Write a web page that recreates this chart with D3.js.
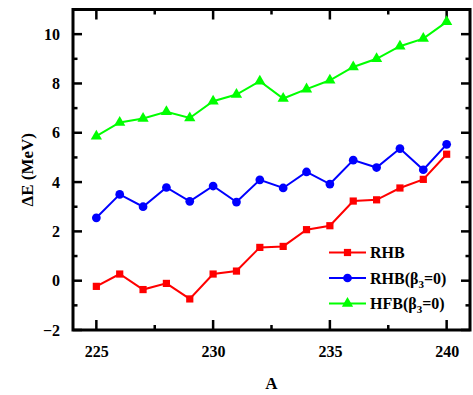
<!DOCTYPE html>
<html><head><meta charset="utf-8">
<script src="https://cdn.jsdelivr.net/npm/d3@7"></script>
<style>body{margin:0;background:#fff}svg{display:block}text{font-family:"Liberation Serif","Times New Roman",serif;font-weight:bold}</style>
</head><body>
<svg id="c" width="473" height="395"></svg>
<script>
const massNumbers = [225,226,227,228,229,230,231,232,233,234,235,236,237,238,239,240];
const rhb = [-0.23,0.27,-0.36,-0.11,-0.74,0.27,0.39,1.35,1.39,2.07,2.23,3.23,3.28,3.76,4.11,5.13];
const rhbB3 = [2.55,3.50,3.00,3.78,3.22,3.84,3.19,4.09,3.76,4.41,3.92,4.89,4.59,5.36,4.50,5.53];
const hfbB3 = [5.86,6.42,6.58,6.85,6.60,7.28,7.55,8.09,7.39,7.77,8.13,8.67,9.00,9.51,9.82,10.50];
const xTicks = [225,230,235,240];
const yTicks = [-2,0,2,4,6,8,10];
const seriesNames = ["RHB","RHB(β3=0)","HFB(β3=0)"];

const svg = d3.select("#c");
const L=73,R=470,T=9.5,B=330;
const x = d3.scaleLinear().domain([224,241]).range([L,R]);
const y = d3.scaleLinear().domain([-2,11]).range([B,T]);

const series = [
  {name:seriesNames[0], vals:rhb, color:"#ff0000", shape:d3.symbolSquare, size:52},
  {name:seriesNames[1], vals:rhbB3, color:"#0000ff", shape:d3.symbolCircle, size:60},
  {name:seriesNames[2], vals:hfbB3, color:"#00ff00", shape:d3.symbolTriangle, size:55}
];

// ticks inward
const g = svg.append("g");
d3.range(225,241,2.5).forEach(v=>{
  const major = xTicks.includes(v);
  const len = major?10:5;
  g.append("line").attr("x1",x(v)).attr("x2",x(v)).attr("y1",B).attr("y2",B-len).attr("stroke","#000").attr("stroke-width",2.5);
  g.append("line").attr("x1",x(v)).attr("x2",x(v)).attr("y1",T).attr("y2",T+len).attr("stroke","#000").attr("stroke-width",2.5);
});
d3.range(-2,11,1).forEach(v=>{
  const major = yTicks.includes(v);
  const len = major?9:4.5;
  g.append("line").attr("y1",y(v)).attr("y2",y(v)).attr("x1",L).attr("x2",L+len).attr("stroke","#000").attr("stroke-width",2.5);
  g.append("line").attr("y1",y(v)).attr("y2",y(v)).attr("x1",R).attr("x2",R-len).attr("stroke","#000").attr("stroke-width",2.5);
});

const xAxis = svg.append("g").attr("transform",`translate(0,${B})`)
  .call(d3.axisBottom(x).tickValues(xTicks).tickSize(0).tickPadding(16));
xAxis.select(".domain").remove();
xAxis.selectAll("text").attr("font-family",null).attr("font-size",16).attr("fill","#000");
const yAxis = svg.append("g").attr("transform",`translate(${L},0)`)
  .call(d3.axisLeft(y).tickValues(yTicks).tickSize(0).tickPadding(13));
yAxis.select(".domain").remove();
yAxis.selectAll("text").attr("font-family",null).attr("font-size",16).attr("fill","#000");
svg.selectAll(".tick text").style("font-family",'"Liberation Serif","Times New Roman",serif');
svg.selectAll("g").attr("font-family",null);

svg.append("rect").attr("x",L).attr("y",T).attr("width",R-L).attr("height",B-T)
  .attr("fill","none").attr("stroke","#000").attr("stroke-width",3);

const line = d3.line().x((d,i)=>x(massNumbers[i])).y(d=>y(d));
series.forEach(s=>{
  svg.append("path").datum(s.vals).attr("d",line).attr("fill","none").attr("stroke",s.color).attr("stroke-width",2);
  svg.append("g").selectAll("path").data(s.vals).join("path")
    .attr("transform",(d,i)=>`translate(${x(massNumbers[i])},${y(d)})`)
    .attr("d",d3.symbol().type(s.shape).size(s.size)).attr("fill",s.color);
});

const legY = [252.5,278,303.5];
series.forEach((s,i)=>{
  const ly = legY[i];
  svg.append("line").attr("x1",329).attr("x2",366).attr("y1",ly).attr("y2",ly).attr("stroke",s.color).attr("stroke-width",2);
  svg.append("path").attr("transform",`translate(347.5,${ly})`).attr("d",d3.symbol().type(s.shape).size(s.size)).attr("fill",s.color);
  const t = svg.append("text").attr("x",370).attr("y",ly).attr("dy","0.35em")
    .attr("font-size",16).attr("fill","#000");
  if(i===0){ t.text(s.name); }
  else {
    const base = s.name.slice(0,3);
    t.append("tspan").text(base+"(β");
    t.append("tspan").attr("font-size",11).attr("dy",4).text("3");
    t.append("tspan").attr("dy",-4).text("=0)");
  }
});

svg.append("text").attr("x",(L+R)/2).attr("y",389).attr("text-anchor","middle")
  .attr("font-size",17).text("A");
svg.append("text").attr("transform",`translate(33,${(T+B)/2}) rotate(-90)`).attr("text-anchor","middle")
  .attr("font-size",17).text("ΔE (MeV)");
</script>
</body></html>
